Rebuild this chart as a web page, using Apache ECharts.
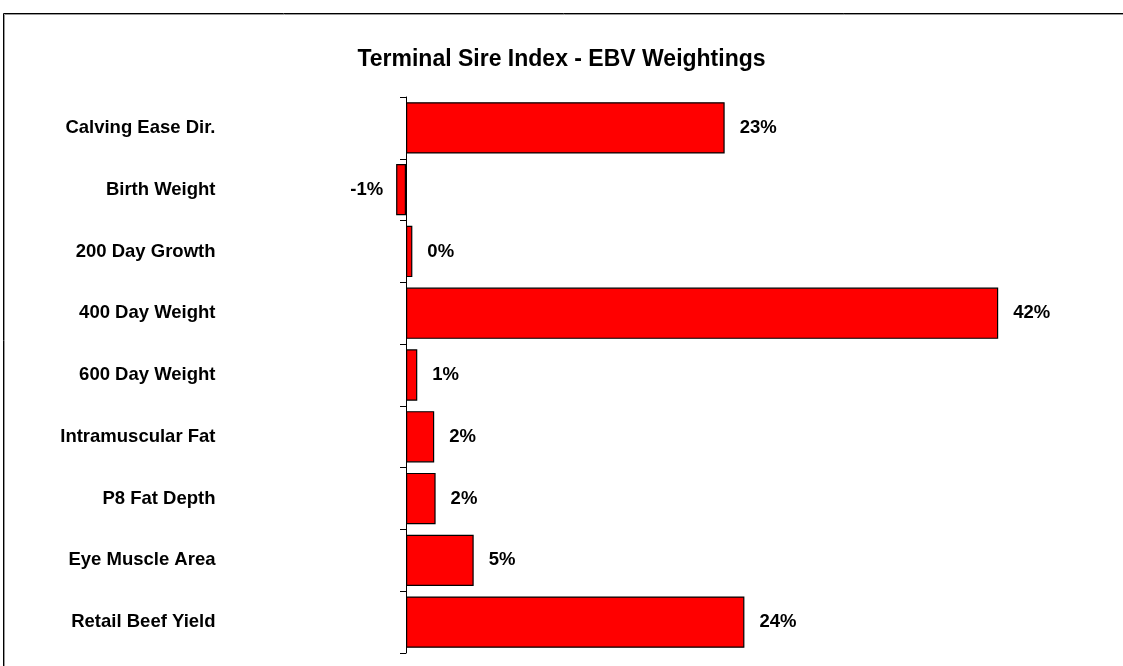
<!DOCTYPE html>
<html>
<head>
<meta charset="utf-8">
<script src="https://cdn.jsdelivr.net/npm/echarts@6/dist/echarts.min.js"></script>
<style>
html,body{margin:0;padding:0;background:#fff;}
#chart{width:1123px;height:666px;}
</style>
</head>
<body>
<div id="chart"></div>
<script>
var categories = ["Calving Ease Dir.", "Birth Weight", "200 Day Growth", "400 Day Weight", "600 Day Weight", "Intramuscular Fat", "P8 Fat Depth", "Eye Muscle Area", "Retail Beef Yield"];
var weightings = [22.6, -0.7, 0.45, 42.0, 0.8, 2.0, 2.1, 4.8, 24.0];
var titleText = "Terminal Sire Index - EBV Weightings";

var chart = echarts.init(document.getElementById('chart'));
var FONT = '"Liberation Sans", Arial, sans-serif';

var barData = weightings.map(function (v) {
  return {
    value: v,
    label: v < 0 ? { position: 'left', distance: 13 } : { position: 'right', distance: 15 }
  };
});

chart.setOption({
  backgroundColor: '#ffffff',
  animation: false,
  graphic: [
    { type: 'rect', shape: { x: 3.5, y: 13.5, width: 1200, height: 700 }, style: { fill: null, stroke: '#000', lineWidth: 1 }, z: 100 },
    { type: 'rect', shape: { x: 4.5, y: 14.5, width: 1200, height: 700 }, style: { fill: null, stroke: '#999', lineWidth: 1 }, z: 100 }
  ],
  title: {
    text: titleText,
    left: 'center',
    top: 43,
    textStyle: { fontFamily: FONT, fontWeight: 'bold', fontSize: 23, color: '#000' }
  },
  grid: { left: 335.5, top: 97, width: 705, height: 556 },
  xAxis: {
    type: 'value',
    min: -5,
    max: 45,
    show: false,
    splitLine: { show: false }
  },
  yAxis: {
    type: 'category',
    data: categories,
    inverse: true,
    axisLine: { onZero: true, lineStyle: { color: '#000', width: 1 } },
    axisTick: { show: true, length: 6, lineStyle: { color: '#000' } },
    axisLabel: { margin: 120, fontFamily: FONT, fontWeight: 'bold', fontSize: 18.5, color: '#000' },
    splitLine: { show: false }
  },
  series: [{
    type: 'bar',
    data: barData,
    barCategoryGap: '17%',
    itemStyle: { color: '#ff0000', borderColor: '#000', borderWidth: 1.2 },
    label: {
      show: true,
      fontFamily: FONT,
      fontWeight: 'bold',
      fontSize: 18.5,
      color: '#000',
      formatter: function (p) { return Math.round(p.value) + '%'; }
    }
  }]
});
</script>
</body>
</html>
